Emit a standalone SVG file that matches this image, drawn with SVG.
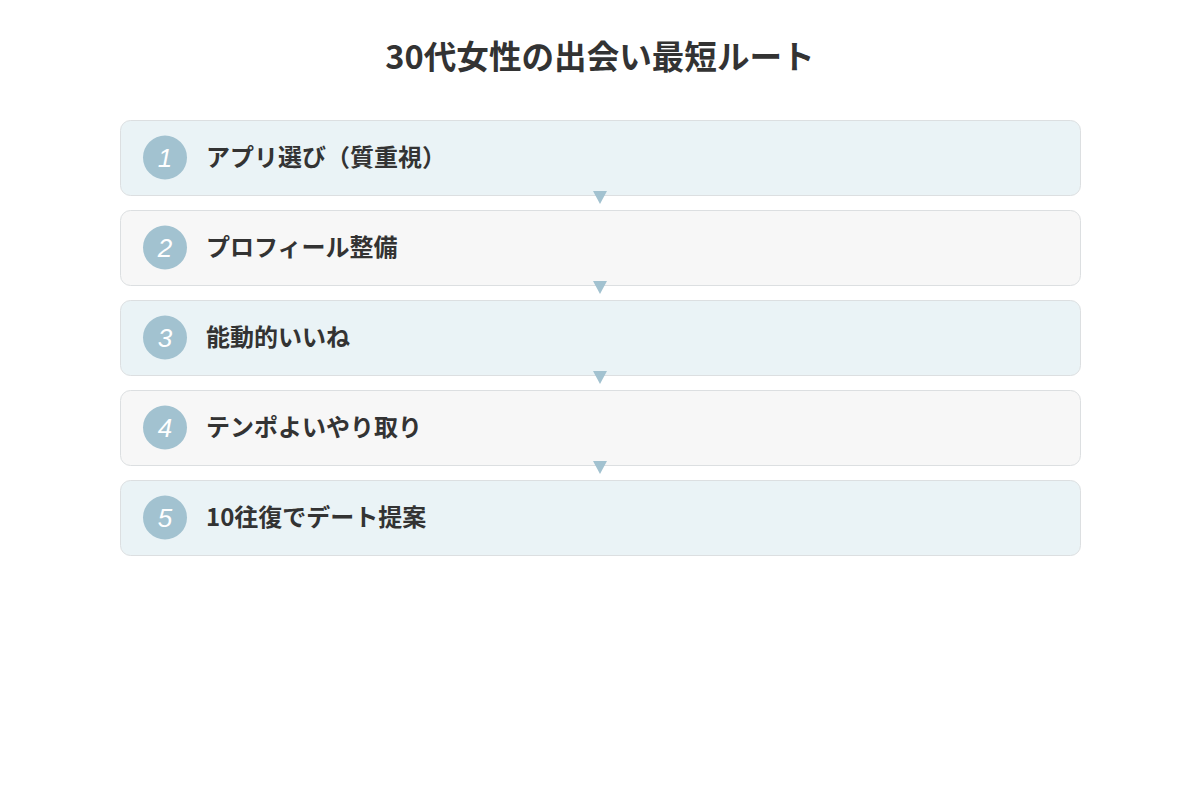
<svg xmlns="http://www.w3.org/2000/svg" width="1200" height="800" viewBox="0 0 1200 800">
<style>
.box{stroke:#dcdfe1;stroke-width:1}
.a{fill:#eaf3f6}
.b{fill:#f7f7f7}
.num{fill:#a2c2d0}
.nt{font-family:"Liberation Sans",Arial,sans-serif;font-style:italic;font-size:26px;fill:#fff;text-anchor:middle}
.lbl{font-family:"Noto Sans CJK JP","Noto Sans",sans-serif;font-weight:bold;font-size:24px;fill:#333}
.title{font-family:"Noto Sans CJK JP","Noto Sans",sans-serif;font-weight:bold;font-size:32.6px;fill:#333;text-anchor:middle}
.arr{fill:#a2c2d0}
</style>
<rect width="1200" height="800" fill="#fff"/>
<text class="title" x="600" y="69">30代女性の出会い最短ルート</text>
<g id="step1"><rect class="box a" x="120.5" y="120.5" width="960" height="75" rx="10"/><circle class="num" cx="165" cy="157.5" r="22"/><text class="nt" x="165" y="167">1</text><text class="lbl" x="206" y="166">アプリ選び（質重視）</text></g>
<g id="step2"><rect class="box b" x="120.5" y="210.5" width="960" height="75" rx="10"/><circle class="num" cx="165" cy="247.5" r="22"/><text class="nt" x="165" y="257">2</text><text class="lbl" x="206" y="256">プロフィール整備</text></g>
<g id="step3"><rect class="box a" x="120.5" y="300.5" width="960" height="75" rx="10"/><circle class="num" cx="165" cy="337.5" r="22"/><text class="nt" x="165" y="347">3</text><text class="lbl" x="206" y="346">能動的いいね</text></g>
<g id="step4"><rect class="box b" x="120.5" y="390.5" width="960" height="75" rx="10"/><circle class="num" cx="165" cy="427.5" r="22"/><text class="nt" x="165" y="437">4</text><text class="lbl" x="206" y="436">テンポよいやり取り</text></g>
<g id="step5"><rect class="box a" x="120.5" y="480.5" width="960" height="75" rx="10"/><circle class="num" cx="165" cy="517.5" r="22"/><text class="nt" x="165" y="527">5</text><text class="lbl" x="206" y="526">10往復でデート提案</text></g>
<g id="connectors">
<polygon class="arr" points="593,191 607,191 600,204"/>
<polygon class="arr" points="593,281 607,281 600,294"/>
<polygon class="arr" points="593,371 607,371 600,384"/>
<polygon class="arr" points="593,461 607,461 600,474"/>
</g>
</svg>
